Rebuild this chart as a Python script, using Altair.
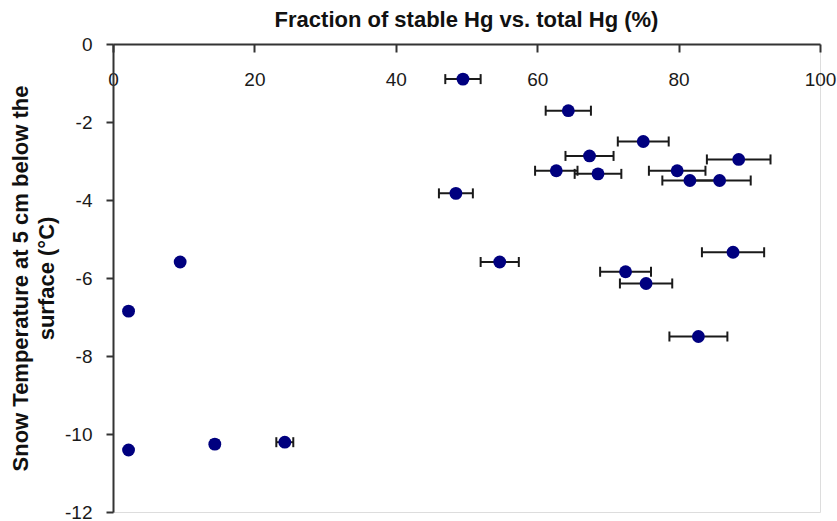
import altair as alt
import pandas as pd

# Fraction of stable Hg vs total Hg (%) -- x values
fraction = [49.5, 64.4, 75.0, 67.4, 88.5, 62.7, 68.6, 79.8, 81.6, 85.8, 48.5,
            54.7, 87.7, 72.5, 75.4, 82.8, 9.5, 2.2, 2.2, 14.4, 24.3]
# Snow temperature at 5 cm (deg C) -- y values
temperature = [-0.9, -1.71, -2.5, -2.87, -2.96, -3.25, -3.33, -3.25, -3.5, -3.5, -3.83,
               -5.59, -5.34, -5.84, -6.14, -7.5, -5.59, -6.85, -10.41, -10.26, -10.21]
# Horizontal error (half width, %)
fraction_err = [2.5, 3.2, 3.6, 3.4, 4.5, 3.0, 3.3, 4.0, 3.9, 4.4, 2.4,
                2.7, 4.4, 3.6, 3.7, 4.1, 0.0, 0.0, 0.0, 0.5, 1.2]

x_ticks = [0, 20, 40, 60, 80, 100]
y_ticks = [-12, -10, -8, -6, -4, -2, 0]

df = pd.DataFrame({"fraction": fraction, "temp": temperature, "err": fraction_err})

FONT = "Liberation Sans, Arial, Helvetica, sans-serif"
W, H = 707, 468

x_scale = alt.Scale(domain=[0, 100], nice=False, zero=False)
y_scale = alt.Scale(domain=[-12, 0], nice=False, zero=False)

x_axis = alt.Axis(
    orient="bottom", offset=-H, values=x_ticks, tickSize=8, tickWidth=2,
    tickColor="#333333", domainColor="#333333", domainWidth=2,
    labelPadding=18, labelFontSize=19, labelFont=FONT, labelColor="#1a1a1a",
    labelFlush=False, labelOverlap=False, grid=False, title=None,
)
y_axis = alt.Axis(
    orient="left", values=y_ticks, tickSize=7, tickWidth=2,
    tickColor="#333333", domainColor="#333333", domainWidth=2,
    labelPadding=14, labelFontSize=19, labelFont=FONT, labelColor="#1a1a1a",
    labelExpr="datum.value", labelFlush=False, labelOverlap=False, grid=False,
    title=["Snow Temperature at 5 cm below the", "surface (°C)"],
    titleFont=FONT, titleFontSize=22, titleFontWeight="bold", titleColor="#111111",
    titleLineHeight=26, titleAngle=270, titleAlign="center", titleBaseline="bottom",
    titleX=-81, titleY=H / 2,
)

base = alt.Chart(df).transform_calculate(
    lo="datum.fraction - datum.err", hi="datum.fraction + datum.err"
)

Y = alt.Y("temp:Q", scale=y_scale, axis=y_axis)

bars = base.mark_rule(color="#1a1a1a", strokeWidth=2).encode(
    x=alt.X("lo:Q", scale=x_scale, axis=x_axis), x2="hi:Q", y=Y
)
cap_lo = base.mark_tick(orient="vertical", size=10, thickness=2, color="#1a1a1a", opacity=1).encode(
    x=alt.X("lo:Q", scale=x_scale, axis=x_axis), y=Y
)
cap_hi = base.mark_tick(orient="vertical", size=10, thickness=2, color="#1a1a1a", opacity=1).encode(
    x=alt.X("hi:Q", scale=x_scale, axis=x_axis), y=Y
)
points = base.mark_point(filled=True, shape="circle", size=165, color="#00007f", opacity=1).encode(
    x=alt.X("fraction:Q", scale=x_scale, axis=x_axis), y=Y
)

chart = alt.layer(bars, cap_lo, cap_hi, points).properties(
    width=W, height=H,
    autosize=alt.AutoSizeParams(type="none"),
    padding={"left": 113, "top": 44, "right": 17, "bottom": 9},
    title=alt.TitleParams(
        "Fraction of stable Hg vs. total Hg (%)", font=FONT, fontSize=22,
        fontWeight="bold", color="#111111", anchor="middle", offset=14,
        baseline="alphabetic", dy=28,
    ),
).configure_view(stroke="#444444", strokeWidth=2).configure(background="white")

chart.save("out.html", embed_options={"renderer": "svg", "actions": False})
